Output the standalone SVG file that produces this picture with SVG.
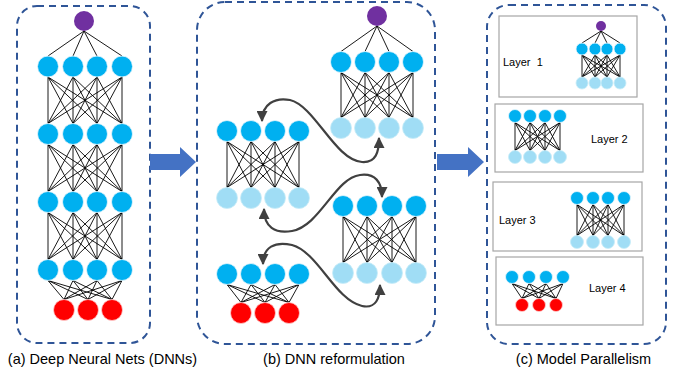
<svg xmlns="http://www.w3.org/2000/svg" width="686" height="375" viewBox="0 0 686 375">
<style>
.panel{fill:none;stroke:#2F5597;stroke-width:2;stroke-dasharray:7,5}
.box{fill:#fff;stroke:#A6A6A6;stroke-width:1.2}
.e{fill:none;stroke:#000;stroke-width:0.9}
.b{fill:#00B0F0;stroke:#e8f6fc;stroke-width:0.8}
.l{fill:#A0DDF5;stroke:#c8ecf8;stroke-width:0.8}
.p{fill:#7030A0}
.r{fill:#FF0000;stroke:#ffd0d0;stroke-width:0.8}
.big{fill:#4472C4}
.cv{fill:none;stroke:#404040;stroke-width:2.2;marker-start:url(#ah);marker-end:url(#ah)}
.cap{font-family:"Liberation Sans",Arial,sans-serif;font-size:14.5px;fill:#000;text-anchor:middle}
.lbl{font-family:"Liberation Sans",Arial,sans-serif;font-size:11px;fill:#000;white-space:pre}
</style>
<defs>
<marker id="ah" markerUnits="userSpaceOnUse" markerWidth="11" markerHeight="11" viewBox="0 0 10 10" refX="9" refY="5" orient="auto-start-reverse"><path d="M0,0 L10,5 L0,10 z" fill="#404040"/></marker>
</defs>

<rect class="panel" x="17" y="6" width="133" height="337" rx="20"/>
<rect class="panel" x="197" y="2" width="238" height="342" rx="28"/>
<rect class="panel" x="487" y="5" width="179" height="339" rx="22"/>

<g id="connectors">
<polygon class="big" points="150,154 180,154 180,147 196,162 180,177 180,170 150,170"/>
<polygon class="big" points="437,154 468,154 468,147 484,162 468,177 468,170 437,170"/>
<!-- panel a edges -->
<path class="e" d="M84,31L48,56M84,31L73,56M84,31L97,56M84,31L122,56"/>
<path class="e" d="M48,77L48,123.5M48,77L73,123.5M48,77L97,123.5M48,77L122,123.5M73,77L48,123.5M73,77L73,123.5M73,77L97,123.5M73,77L122,123.5M97,77L48,123.5M97,77L73,123.5M97,77L97,123.5M97,77L122,123.5M122,77L48,123.5M122,77L73,123.5M122,77L97,123.5M122,77L122,123.5"/>
<path class="e" d="M48,144.5L48,191.5M48,144.5L73,191.5M48,144.5L97,191.5M48,144.5L122,191.5M73,144.5L48,191.5M73,144.5L73,191.5M73,144.5L97,191.5M73,144.5L122,191.5M97,144.5L48,191.5M97,144.5L73,191.5M97,144.5L97,191.5M97,144.5L122,191.5M122,144.5L48,191.5M122,144.5L73,191.5M122,144.5L97,191.5M122,144.5L122,191.5"/>
<path class="e" d="M48,212.5L48,259.5M48,212.5L73,259.5M48,212.5L97,259.5M48,212.5L122,259.5M73,212.5L48,259.5M73,212.5L73,259.5M73,212.5L97,259.5M73,212.5L122,259.5M97,212.5L48,259.5M97,212.5L73,259.5M97,212.5L97,259.5M97,212.5L122,259.5M122,212.5L48,259.5M122,212.5L73,259.5M122,212.5L97,259.5M122,212.5L122,259.5"/>
<path class="e" d="M48,280.5L64,299.5M48,280.5L88,299.5M48,280.5L112,299.5M73,280.5L64,299.5M73,280.5L88,299.5M73,280.5L112,299.5M97,280.5L64,299.5M97,280.5L88,299.5M97,280.5L112,299.5M122,280.5L64,299.5M122,280.5L88,299.5M122,280.5L112,299.5"/>
<!-- panel b edges -->
<path class="e" d="M377,26L341,51.5M377,26L365,51.5M377,26L389,51.5M377,26L413,51.5"/>
<path class="e" d="M341,72.5L341,117.5M341,72.5L365,117.5M341,72.5L389,117.5M341,72.5L413,117.5M365,72.5L341,117.5M365,72.5L365,117.5M365,72.5L389,117.5M365,72.5L413,117.5M389,72.5L341,117.5M389,72.5L365,117.5M389,72.5L389,117.5M389,72.5L413,117.5M413,72.5L341,117.5M413,72.5L365,117.5M413,72.5L389,117.5M413,72.5L413,117.5"/>
<path class="e" d="M227,141.5L227,187.5M227,141.5L251,187.5M227,141.5L275,187.5M227,141.5L299,187.5M251,141.5L227,187.5M251,141.5L251,187.5M251,141.5L275,187.5M251,141.5L299,187.5M275,141.5L227,187.5M275,141.5L251,187.5M275,141.5L275,187.5M275,141.5L299,187.5M299,141.5L227,187.5M299,141.5L251,187.5M299,141.5L275,187.5M299,141.5L299,187.5"/>
<path class="e" d="M343,216.5L343,262.5M343,216.5L367,262.5M343,216.5L392,262.5M343,216.5L416,262.5M367,216.5L343,262.5M367,216.5L367,262.5M367,216.5L392,262.5M367,216.5L416,262.5M392,216.5L343,262.5M392,216.5L367,262.5M392,216.5L392,262.5M392,216.5L416,262.5M416,216.5L343,262.5M416,216.5L367,262.5M416,216.5L392,262.5M416,216.5L416,262.5"/>
<path class="e" d="M227,284.5L241,302.5M227,284.5L265,302.5M227,284.5L289,302.5M251,284.5L241,302.5M251,284.5L265,302.5M251,284.5L289,302.5M275,284.5L241,302.5M275,284.5L265,302.5M275,284.5L289,302.5M299,284.5L241,302.5M299,284.5L265,302.5M299,284.5L289,302.5"/>
<path class="cv" d="M262,121 C262,104 275,97 290,100 C315,106 335,160 362,162 C376,163 379,152 379,138"/>
<path class="cv" d="M264,209 C264,227 275,234 292,231 C320,226 335,178 360,175 C375,173 382,182 382,197"/>
<path class="cv" d="M263,264 C263,247 275,241 292,245 C318,252 335,300 362,306 C376,309 380,298 380,285"/>
</g>

<g id="panel-a">
<circle class="p" cx="84" cy="21" r="10"/>
<circle class="b" cx="48" cy="66.5" r="10.5"/><circle class="b" cx="73" cy="66.5" r="10.5"/><circle class="b" cx="97" cy="66.5" r="10.5"/><circle class="b" cx="122" cy="66.5" r="10.5"/>
<circle class="b" cx="48" cy="134" r="10.5"/><circle class="b" cx="73" cy="134" r="10.5"/><circle class="b" cx="97" cy="134" r="10.5"/><circle class="b" cx="122" cy="134" r="10.5"/>
<circle class="b" cx="48" cy="202" r="10.5"/><circle class="b" cx="73" cy="202" r="10.5"/><circle class="b" cx="97" cy="202" r="10.5"/><circle class="b" cx="122" cy="202" r="10.5"/>
<circle class="b" cx="48" cy="270" r="10.5"/><circle class="b" cx="73" cy="270" r="10.5"/><circle class="b" cx="97" cy="270" r="10.5"/><circle class="b" cx="122" cy="270" r="10.5"/>
<circle class="r" cx="64" cy="310" r="10.5"/><circle class="r" cx="88" cy="310" r="10.5"/><circle class="r" cx="112" cy="310" r="10.5"/>
<text class="cap" x="102.5" y="364">(a) Deep Neural Nets (DNNs)</text>
</g>

<g id="panel-b">
<circle class="p" cx="377" cy="16" r="10"/>
<circle class="b" cx="341" cy="62" r="10.5"/><circle class="b" cx="365" cy="62" r="10.5"/><circle class="b" cx="389" cy="62" r="10.5"/><circle class="b" cx="413" cy="62" r="10.5"/>
<circle class="l" cx="341" cy="128" r="10.5"/><circle class="l" cx="365" cy="128" r="10.5"/><circle class="l" cx="389" cy="128" r="10.5"/><circle class="l" cx="413" cy="128" r="10.5"/>
<circle class="b" cx="227" cy="131" r="10.5"/><circle class="b" cx="251" cy="131" r="10.5"/><circle class="b" cx="275" cy="131" r="10.5"/><circle class="b" cx="299" cy="131" r="10.5"/>
<circle class="l" cx="227" cy="198" r="10.5"/><circle class="l" cx="251" cy="198" r="10.5"/><circle class="l" cx="275" cy="198" r="10.5"/><circle class="l" cx="299" cy="198" r="10.5"/>
<circle class="b" cx="343" cy="206" r="10.5"/><circle class="b" cx="367" cy="206" r="10.5"/><circle class="b" cx="392" cy="206" r="10.5"/><circle class="b" cx="416" cy="206" r="10.5"/>
<circle class="l" cx="343" cy="273" r="10.5"/><circle class="l" cx="367" cy="273" r="10.5"/><circle class="l" cx="392" cy="273" r="10.5"/><circle class="l" cx="416" cy="273" r="10.5"/>
<circle class="b" cx="227" cy="274" r="10.5"/><circle class="b" cx="251" cy="274" r="10.5"/><circle class="b" cx="275" cy="274" r="10.5"/><circle class="b" cx="299" cy="274" r="10.5"/>
<circle class="r" cx="241" cy="313" r="10.5"/><circle class="r" cx="265" cy="313" r="10.5"/><circle class="r" cx="289" cy="313" r="10.5"/>
<text class="cap" x="334" y="364">(b) DNN reformulation</text>
</g>

<g id="panel-c">
<text class="cap" x="583.5" y="364">(c) Model Parallelism</text>
<g id="layer1">
<rect class="box" x="499" y="16" width="138" height="81"/>
<path class="e" d="M601,31L582,43M601,31L595,43M601,31L607,43M601,31L620,43"/>
<path class="e" d="M582,55L582,77M582,55L595,77M582,55L607,77M582,55L620,77M595,55L582,77M595,55L595,77M595,55L607,77M595,55L620,77M607,55L582,77M607,55L595,77M607,55L607,77M607,55L620,77M620,55L582,77M620,55L595,77M620,55L607,77M620,55L620,77"/>
<circle class="p" cx="601" cy="26" r="5"/>
<circle class="b" cx="582" cy="49" r="6"/><circle class="b" cx="595" cy="49" r="6"/><circle class="b" cx="607" cy="49" r="6"/><circle class="b" cx="620" cy="49" r="6"/>
<circle class="l" cx="582" cy="83" r="6"/><circle class="l" cx="595" cy="83" r="6"/><circle class="l" cx="607" cy="83" r="6"/><circle class="l" cx="620" cy="83" r="6"/>
<text class="lbl" x="503" y="66">Layer  1</text>
</g>
<g id="layer2">
<rect class="box" x="495" y="104" width="148" height="68"/>
<path class="e" d="M515,122.5L515,150.5M515,122.5L530,150.5M515,122.5L545,150.5M515,122.5L560,150.5M530,122.5L515,150.5M530,122.5L530,150.5M530,122.5L545,150.5M530,122.5L560,150.5M545,122.5L515,150.5M545,122.5L530,150.5M545,122.5L545,150.5M545,122.5L560,150.5M560,122.5L515,150.5M560,122.5L530,150.5M560,122.5L545,150.5M560,122.5L560,150.5"/>
<circle class="b" cx="515" cy="116" r="6.5"/><circle class="b" cx="530" cy="116" r="6.5"/><circle class="b" cx="545" cy="116" r="6.5"/><circle class="b" cx="560" cy="116" r="6.5"/>
<circle class="l" cx="515" cy="157" r="6.5"/><circle class="l" cx="530" cy="157" r="6.5"/><circle class="l" cx="545" cy="157" r="6.5"/><circle class="l" cx="560" cy="157" r="6.5"/>
<text class="lbl" x="591" y="143">Layer 2</text>
</g>
<g id="layer3">
<rect class="box" x="493" y="182" width="149" height="69"/>
<path class="e" d="M577,204.5L577,235.5M577,204.5L593,235.5M577,204.5L608,235.5M577,204.5L624,235.5M593,204.5L577,235.5M593,204.5L593,235.5M593,204.5L608,235.5M593,204.5L624,235.5M608,204.5L577,235.5M608,204.5L593,235.5M608,204.5L608,235.5M608,204.5L624,235.5M624,204.5L577,235.5M624,204.5L593,235.5M624,204.5L608,235.5M624,204.5L624,235.5"/>
<circle class="b" cx="577" cy="198" r="6.5"/><circle class="b" cx="593" cy="198" r="6.5"/><circle class="b" cx="608" cy="198" r="6.5"/><circle class="b" cx="624" cy="198" r="6.5"/>
<circle class="l" cx="577" cy="242" r="6.5"/><circle class="l" cx="593" cy="242" r="6.5"/><circle class="l" cx="608" cy="242" r="6.5"/><circle class="l" cx="624" cy="242" r="6.5"/>
<text class="lbl" x="499" y="224">Layer 3</text>
</g>
<g id="layer4">
<rect class="box" x="496" y="257" width="147" height="68"/>
<path class="e" d="M512,283.5L522,298.5M512,283.5L539,298.5M512,283.5L556,298.5M529,283.5L522,298.5M529,283.5L539,298.5M529,283.5L556,298.5M546,283.5L522,298.5M546,283.5L539,298.5M546,283.5L556,298.5M563,283.5L522,298.5M563,283.5L539,298.5M563,283.5L556,298.5"/>
<circle class="b" cx="512" cy="277" r="6.5"/><circle class="b" cx="529" cy="277" r="6.5"/><circle class="b" cx="546" cy="277" r="6.5"/><circle class="b" cx="563" cy="277" r="6.5"/>
<circle class="r" cx="522" cy="305" r="6.5"/><circle class="r" cx="539" cy="305" r="6.5"/><circle class="r" cx="556" cy="305" r="6.5"/>
<text class="lbl" x="589" y="292">Layer 4</text>
</g>
</g>
</svg>
